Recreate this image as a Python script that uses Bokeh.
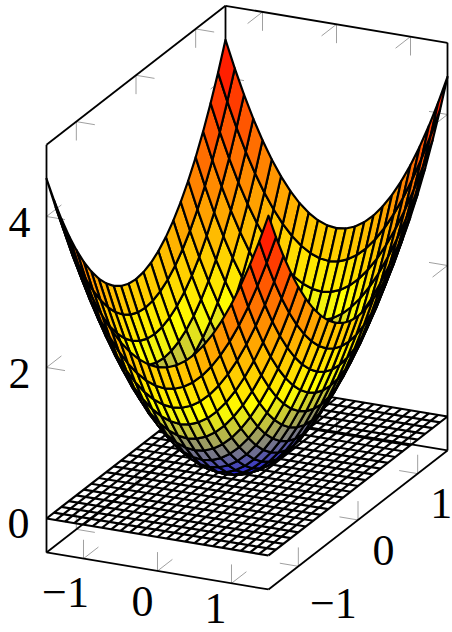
from bokeh.plotting import figure
from bokeh.models import ColumnDataSource, Range1d
from bokeh.core.properties import value
from bokeh.embed import file_html
from bokeh.resources import INLINE

# ---- data -------------------------------------------------------------
grid = [-1.5, -1.375, -1.25, -1.125, -1.0, -0.875, -0.75, -0.625, -0.5, -0.375, -0.25, -0.125, 0.0,
        0.125, 0.25, 0.375, 0.5, 0.625, 0.75, 0.875, 1.0, 1.125, 1.25, 1.375, 1.5]

# half rows of the surface heights, from the grid edge to the middle; the bowl is mirror-symmetric
z_rows = [
    [4.5, 4.141, 3.813, 3.516, 3.25, 3.016, 2.813, 2.641, 2.5, 2.391, 2.313, 2.266, 2.25],
    [4.141, 3.782, 3.454, 3.157, 2.891, 2.657, 2.454, 2.282, 2.141, 2.032, 1.954, 1.907, 1.891],
    [3.813, 3.454, 3.126, 2.829, 2.563, 2.329, 2.126, 1.954, 1.813, 1.704, 1.626, 1.579, 1.563],
    [3.516, 3.157, 2.829, 2.532, 2.266, 2.032, 1.829, 1.657, 1.516, 1.407, 1.329, 1.282, 1.266],
    [3.25, 2.891, 2.563, 2.266, 2.0, 1.766, 1.563, 1.391, 1.25, 1.141, 1.063, 1.016, 1.0],
    [3.016, 2.657, 2.329, 2.032, 1.766, 1.532, 1.329, 1.157, 1.016, 0.907, 0.829, 0.782, 0.766],
    [2.813, 2.454, 2.126, 1.829, 1.563, 1.329, 1.126, 0.954, 0.813, 0.704, 0.626, 0.579, 0.563],
    [2.641, 2.282, 1.954, 1.657, 1.391, 1.157, 0.954, 0.782, 0.641, 0.532, 0.454, 0.407, 0.391],
    [2.5, 2.141, 1.813, 1.516, 1.25, 1.016, 0.813, 0.641, 0.5, 0.391, 0.313, 0.266, 0.25],
    [2.391, 2.032, 1.704, 1.407, 1.141, 0.907, 0.704, 0.532, 0.391, 0.282, 0.204, 0.157, 0.141],
    [2.313, 1.954, 1.626, 1.329, 1.063, 0.829, 0.626, 0.454, 0.313, 0.204, 0.126, 0.079, 0.063],
    [2.266, 1.907, 1.579, 1.282, 1.016, 0.782, 0.579, 0.407, 0.266, 0.157, 0.079, 0.032, 0.016],
    [2.25, 1.891, 1.563, 1.266, 1.0, 0.766, 0.563, 0.391, 0.25, 0.141, 0.063, 0.016, 0.0],
]
x_ticks = [-1, 0, 1]
y_ticks = [-1, 0, 1]
z_ticks = [0, 2, 4]
x_labels = ["\u22121", "0", "1"]
y_labels = ["\u22121", "0", "1"]
z_labels = ["0", "2", "4"]
floor_z = 0.0
lo, hi = -1.5, 1.5
z_lo, z_hi = -0.45, 4.95
meta_max = 4.5

# ---- view -------------------------------------------------------------
def proj(x, y, z):
    return 246.5 + 74.0 * x + 59.67 * y, 467.0 + 12.33 * x - 46.33 * y - 75.5 * z

def depth(x, y, z):
    return x - 1.24 * y + 0.924 * z

def hot(t):
    stops = [(0.0, 0.0, 1.0), (1.0, 1.0, 0.0), (1.0, 0.5, 0.0), (1.0, 0.0, 0.0)]
    t = max(0.0, min(1.0, t)) * 3
    i = min(int(t), 2)
    f = t - i
    c = [stops[i][k] + (stops[i + 1][k] - stops[i][k]) * f for k in range(3)]
    return "#%02x%02x%02x" % tuple(round(v * 255) for v in c)

def full(row):
    return row + row[-2::-1]

half = [full(r) for r in z_rows]
Z = half + half[-2::-1]

p = figure(width=452, height=632, x_range=Range1d(0, 452), y_range=Range1d(632, 0),
           toolbar_location=None, output_backend="svg", min_border=0,
           background_fill_color=None, border_fill_color=None, outline_line_color=None)
p.axis.visible = False
p.grid.visible = False

def seg(a, b):
    pa, pb = proj(*a), proj(*b)
    return [pa[0], pb[0]], [pa[1], pb[1]]

# ---- ticks (drawn first) ---------------------------------------------
L = 0.25
tick_xs, tick_ys = [], []
def add_tick(pt, *dirs):
    for d in dirs:
        e = (pt[0] + d[0] * L, pt[1] + d[1] * L, pt[2] + d[2] * L)
        a, b = seg(pt, e)
        tick_xs.append(a)
        tick_ys.append(b)

for v in x_ticks:
    add_tick((v, lo, z_lo), (0, 0, 1), (0, 1, 0))
    add_tick((v, hi, z_lo), (0, 0, 1), (0, -1, 0))
    add_tick((v, hi, z_hi), (0, 0, -1), (0, -1, 0))
for v in y_ticks:
    add_tick((hi, v, z_lo), (0, 0, 1), (-1, 0, 0))
    add_tick((lo, v, z_lo), (0, 0, 1), (1, 0, 0))
    add_tick((lo, v, z_hi), (0, 0, -1), (1, 0, 0))
for v in z_ticks:
    add_tick((lo, lo, v), (1, 0, 0), (0, 1, 0))
    add_tick((lo, hi, v), (1, 0, 0), (0, -1, 0))
    add_tick((hi, hi, v), (-1, 0, 0), (0, -1, 0))
p.multi_line(tick_xs, tick_ys, line_color="#a0a0a0", line_width=1.0)

# ---- box --------------------------------------------------------------
edges = [
    ((lo, lo, z_lo), (lo, lo, z_hi)), ((lo, hi, z_lo), (lo, hi, z_hi)), ((hi, hi, z_lo), (hi, hi, z_hi)),
    ((lo, lo, z_hi), (lo, hi, z_hi)), ((lo, hi, z_hi), (hi, hi, z_hi)),
    ((lo, lo, z_lo), (hi, lo, z_lo)), ((hi, lo, z_lo), (hi, hi, z_lo)),
    ((lo, lo, z_lo), (lo, hi, z_lo)), ((lo, hi, z_lo), (hi, hi, z_lo)),
]
bx, by = zip(*[seg(a, b) for a, b in edges])
p.multi_line(list(bx), list(by), line_color="black", line_width=1.8)

# ---- floor mesh -------------------------------------------------------
fx, fy = [], []
for g in grid:
    a, b = seg((g, lo, floor_z), (g, hi, floor_z))
    fx.append(a); fy.append(b)
    a, b = seg((lo, g, floor_z), (hi, g, floor_z))
    fx.append(a); fy.append(b)
p.multi_line(fx, fy, line_color="black", line_width=2.2)

# ---- surface ----------------------------------------------------------
cells = []
n = len(grid)
for i in range(n - 1):
    for j in range(n - 1):
        corners = [(i, j), (i + 1, j), (i + 1, j + 1), (i, j + 1)]
        pts = [(grid[a], grid[b], Z[a][b]) for a, b in corners]
        d = sum(depth(*q) for q in pts) / 4
        m = sum(q[2] for q in pts) / 4
        sc = [proj(*q) for q in pts]
        cells.append((d, [s[0] for s in sc], [s[1] for s in sc], hot(m / meta_max)))
cells.sort(key=lambda c: c[0])
src = ColumnDataSource(dict(xs=[c[1] for c in cells], ys=[c[2] for c in cells], col=[c[3] for c in cells]))
p.patches("xs", "ys", source=src, fill_color="col", line_color="black", line_width=2.2, line_join="round")

# ---- labels -----------------------------------------------------------
x_dx, x_dy = [-18, -15, -16], [34, 31, 25]
y_dx, y_dy = [35, 25.5, 23.5], [37, 30.5, 30]
z_dx, z_dy = [-28, -27, -27], [5, 6, 6]
tx, ty, tt = [], [], []
for v, s, dx, dy in zip(x_ticks, x_labels, x_dx, x_dy):
    q = proj(v, lo, z_lo); tx.append(q[0] + dx); ty.append(q[1] + dy); tt.append(s)
for v, s, dx, dy in zip(y_ticks, y_labels, y_dx, y_dy):
    q = proj(hi, v, z_lo); tx.append(q[0] + dx); ty.append(q[1] + dy); tt.append(s)
for v, s, dx, dy in zip(z_ticks, z_labels, z_dx, z_dy):
    q = proj(lo, lo, v); tx.append(q[0] + dx); ty.append(q[1] + dy); tt.append(s)
p.text(tx, ty, text=tt, text_font=value("Liberation Serif"), text_font_size="44px",
       text_align="center", text_baseline="alphabetic", text_color="#000000")

open("out.html", "w").write(file_html(p, INLINE))
